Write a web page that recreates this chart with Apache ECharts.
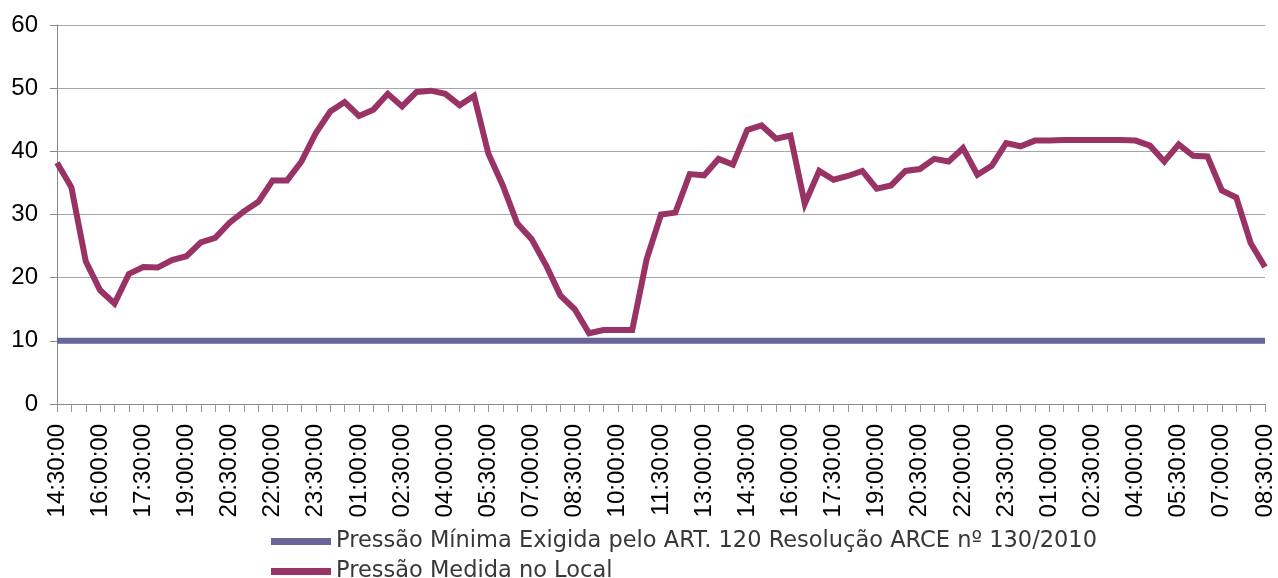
<!DOCTYPE html>
<html>
<head>
<meta charset="utf-8">
<script src="https://cdn.jsdelivr.net/npm/echarts@6/dist/echarts.min.js"></script>
<style>
  html, body { margin: 0; padding: 0; background: #fff; }
  #chart { width: 1278px; height: 578px; }
</style>
</head>
<body>
<div id="chart"></div>
<script>
// horários (a cada 30 min)
var horarios = [
  '14:30:00','15:00:00','15:30:00','16:00:00','16:30:00','17:00:00','17:30:00','18:00:00','18:30:00',
  '19:00:00','19:30:00','20:00:00','20:30:00','21:00:00','21:30:00','22:00:00','22:30:00','23:00:00',
  '23:30:00','00:00:00','00:30:00','01:00:00','01:30:00','02:00:00','02:30:00','03:00:00','03:30:00',
  '04:00:00','04:30:00','05:00:00','05:30:00','06:00:00','06:30:00','07:00:00','07:30:00','08:00:00',
  '08:30:00','09:00:00','09:30:00','10:00:00','10:30:00','11:00:00','11:30:00','12:00:00','12:30:00',
  '13:00:00','13:30:00','14:00:00','14:30:00','15:00:00','15:30:00','16:00:00','16:30:00','17:00:00',
  '17:30:00','18:00:00','18:30:00','19:00:00','19:30:00','20:00:00','20:30:00','21:00:00','21:30:00',
  '22:00:00','22:30:00','23:00:00','23:30:00','00:00:00','00:30:00','01:00:00','01:30:00','02:00:00',
  '02:30:00','03:00:00','03:30:00','04:00:00','04:30:00','05:00:00','05:30:00','06:00:00','06:30:00',
  '07:00:00','07:30:00','08:00:00','08:30:00'
];

// pressão mínima exigida (constante)
var pressaoMinima = [
  10,10,10,10,10,10,10,10,10,10,10,10,10,10,10,10,10,10,10,10,10,10,10,10,10,10,10,10,10,10,
  10,10,10,10,10,10,10,10,10,10,10,10,10,10,10,10,10,10,10,10,10,10,10,10,10,10,10,10,10,10,
  10,10,10,10,10,10,10,10,10,10,10,10,10,10,10,10,10,10,10,10,10,10,10,10,10
];

// pressão medida no local
var pressaoMedida = [
  38.2, 34.3, 22.6, 18.0, 15.9, 20.6, 21.7, 21.6, 22.8, 23.4,
  25.6, 26.3, 28.7, 30.5, 32.0, 35.4, 35.4, 38.4, 42.9, 46.3,
  47.8, 45.6, 46.6, 49.1, 47.1, 49.4, 49.6, 49.1, 47.3, 48.8,
  39.6, 34.6, 28.6, 26.1, 22.0, 17.2, 15.0, 11.2, 11.7, 11.7,
  11.7, 22.9, 30.0, 30.3, 36.4, 36.2, 38.8, 37.9, 43.4, 44.1,
  42.0, 42.5, 31.7, 36.9, 35.5, 36.1, 36.9, 34.1, 34.6, 36.9,
  37.2, 38.8, 38.4, 40.5, 36.3, 37.7, 41.3, 40.8, 41.7, 41.7,
  41.8, 41.8, 41.8, 41.8, 41.8, 41.7, 40.9, 38.4, 41.1, 39.3,
  39.2, 33.8, 32.7, 25.5, 21.7
];

var nomeMinima = 'Pressão Mínima Exigida pelo ART. 120 Resolução ARCE nº 130/2010';
var nomeMedida = 'Pressão Medida no Local';

// uma legenda por linha (empilhadas)
function legenda(nome, topo) {
  return {
    left: 266,
    top: topo,
    itemWidth: 60,
    itemHeight: 7,
    itemGap: 8,
    icon: 'rect',
    textStyle: { fontSize: 22.5, color: '#383838', fontFamily: 'DejaVu Sans' },
    data: [nome]
  };
}

var chart = echarts.init(document.getElementById('chart'));
chart.setOption({
  animation: false,
  textStyle: { fontFamily: 'Liberation Sans' },
  grid: { left: 57, right: 13, top: 25, bottom: 174 },
  legend: [legenda(nomeMinima, 525), legenda(nomeMedida, 555)],
  xAxis: {
    type: 'category',
    boundaryGap: false,
    data: horarios,
    axisLine: { lineStyle: { color: '#888', width: 1 } },
    axisTick: { show: true, interval: 0, length: 8, lineStyle: { color: '#999' } },
    axisLabel: {
      interval: 2,
      rotate: 90,
      margin: 20,
      fontSize: 24,
      color: '#000',
      fontFamily: 'Liberation Sans'
    },
    splitLine: { show: false }
  },
  yAxis: {
    type: 'value',
    min: 0,
    max: 60,
    interval: 10,
    axisLine: { show: true, lineStyle: { color: '#888' } },
    axisTick: { show: true, length: 7, lineStyle: { color: '#888' } },
    axisLabel: { fontSize: 24, color: '#000', margin: 19, fontFamily: 'Liberation Sans' },
    splitLine: { lineStyle: { color: '#a6a6a6', width: 1 } }
  },
  series: [
    {
      name: nomeMinima,
      type: 'line',
      data: pressaoMinima,
      symbol: 'none',
      color: '#666699',
      lineStyle: { width: 6, color: '#666699' }
    },
    {
      name: nomeMedida,
      type: 'line',
      data: pressaoMedida,
      symbol: 'none',
      color: '#993366',
      lineStyle: { width: 6, color: '#993366', join: 'miter' }
    }
  ]
});
</script>
</body>
</html>
